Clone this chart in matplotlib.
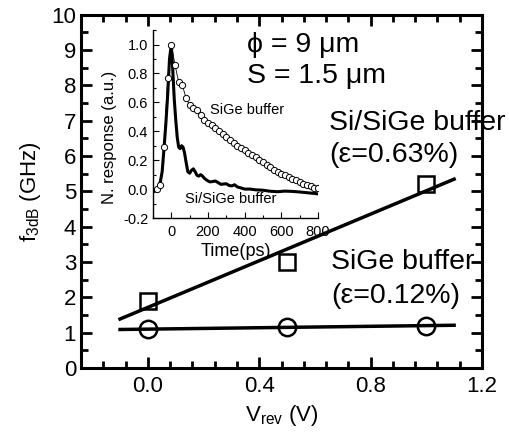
import numpy as np
import matplotlib
matplotlib.use('Agg')
import matplotlib.pyplot as plt
from matplotlib.ticker import MultipleLocator, FormatStrFormatter

plt.rcParams['font.family'] = ['Liberation Sans', 'DejaVu Sans']
plt.rcParams['mathtext.fontset'] = 'custom'
plt.rcParams['mathtext.rm'] = 'Liberation Sans'

# main data: f3dB vs reverse bias
v_rev = [0.0, 0.5, 1.0]
f_sisige = [1.9, 3.0, 5.2]     # Si/SiGe buffer (squares)
f_sige = [1.1, 1.15, 1.2]      # SiGe buffer (circles)
fit_range = [-0.1, 1.1]

# inset: normalised impulse response
t_sige = [-80, -60, -40, -20, 0, 20, 40, 60, 80, 100, 120, 140, 160, 180, 200,
          220, 240, 260, 280, 300, 320, 340, 360, 380, 400, 420, 440, 460, 480,
          500, 520, 540, 560, 580, 600, 620, 640, 660, 680, 700, 720, 740, 760,
          780, 800]
r_sige = [0.00, 0.03, 0.29, 0.77, 1.00, 0.86, 0.74, 0.72, 0.63, 0.58, 0.56,
          0.545, 0.51, 0.48, 0.455, 0.44, 0.42, 0.40, 0.38, 0.36, 0.34, 0.32,
          0.30, 0.285, 0.27, 0.25, 0.235, 0.22, 0.20, 0.185, 0.17, 0.155,
          0.135, 0.12, 0.107, 0.095, 0.083, 0.07, 0.06, 0.047, 0.038, 0.03,
          0.02, 0.01, 0.005]
t_sisige = [-100, -90, -75, -60, -50, -40, -30, -20, -10, 0, 8, 16, 24, 32, 40,
            48, 56, 64, 72, 80, 90, 100, 110, 120, 130, 140, 150, 160, 170, 180,
            195, 210, 225, 240, 255, 270, 285, 300, 315, 330, 345, 360, 380,
            400, 430, 460, 500, 540, 580, 620, 660, 700, 740, 780, 800]
r_sisige = [-0.02, -0.015, 0.0, 0.05, 0.12, 0.28, 0.45, 0.65, 0.9, 1.0, 0.82,
            0.62, 0.48, 0.36, 0.29, 0.28, 0.30, 0.29, 0.25, 0.19, 0.12, 0.11,
            0.13, 0.14, 0.12, 0.095, 0.09, 0.10, 0.09, 0.075, 0.06, 0.05, 0.052,
            0.056, 0.045, 0.033, 0.035, 0.037, 0.025, 0.022, 0.03, 0.015, 0.008,
            0.0, 0.0, -0.005, -0.008, -0.015, -0.018, -0.014, -0.016, -0.02,
            -0.025, -0.03, -0.033]

fig = plt.figure(figsize=(5.1, 4.36), dpi=100)
ax = fig.add_axes([0.159, 0.156, 0.786, 0.810])

# linear fits
xf = np.array(fit_range)
p1 = np.polyfit(v_rev, f_sisige, 1)
p2 = np.polyfit(v_rev, f_sige, 1)
ax.plot(xf, np.polyval(p1, xf), 'k-', lw=2.5)
ax.plot(xf, np.polyval(p2, xf), 'k-', lw=2.5)
ax.plot(v_rev, f_sisige, 's', ms=12, mfc='none', mec='k', mew=1.8)
ax.plot(v_rev, f_sige, 'o', ms=12.5, mfc='none', mec='k', mew=1.8)

ax.set_xlim(-0.24, 1.2)
ax.set_ylim(0, 10)
ax.xaxis.set_major_locator(MultipleLocator(0.4))
ax.xaxis.set_minor_locator(MultipleLocator(0.08))
ax.xaxis.set_major_formatter(FormatStrFormatter('%.1f'))
ax.yaxis.set_major_locator(MultipleLocator(1))
ax.yaxis.set_minor_locator(MultipleLocator(0.5))
ax.tick_params(which='both', direction='in', top=True, right=True,
               labelsize=16, width=2)
ax.tick_params(which='major', length=8)
ax.tick_params(which='minor', length=5)
ax.tick_params(axis='x', pad=6)
for s in ax.spines.values():
    s.set_linewidth(2.2)
ax.set_xlabel(r'V$_\mathregular{rev}$ (V)', fontsize=16, labelpad=4)
ax.set_ylabel(r'f$_\mathregular{3dB}$ (GHz)', fontsize=16, labelpad=6)

tkw = dict(fontsize=20.5, ha='left', va='center')
ax.text(0.357, 9.15, '\u03d5 = 9 \u03bcm', **tkw)
ax.text(0.357, 8.27, 'S = 1.5 \u03bcm', **tkw)
ax.text(0.65, 6.94, 'Si/SiGe buffer', **tkw)
ax.text(0.65, 6.03, '(\u03b5=0.63%)', **tkw)
ax.text(0.657, 3.0, 'SiGe buffer', **tkw)
ax.text(0.657, 2.04, '(\u03b5=0.12%)', **tkw)

# inset
ins = fig.add_axes([0.300, 0.500, 0.3235, 0.431])
ins.patch.set_alpha(0)
ins.plot(t_sisige, r_sisige, 'k-', lw=2.2)
ins.plot(t_sige, r_sige, '-o', color='k', lw=0.6, ms=4.5, mfc='white',
         mec='k', mew=0.7)
ins.set_xlim(-100, 800)
ins.set_ylim(-0.2, 1.1)
ins.spines['top'].set_visible(False)
ins.spines['right'].set_visible(False)
for s in ['left', 'bottom']:
    ins.spines[s].set_linewidth(1)
ins.xaxis.set_major_locator(MultipleLocator(200))
ins.xaxis.set_minor_locator(MultipleLocator(100))
ins.yaxis.set_major_locator(MultipleLocator(0.2))
ins.yaxis.set_minor_locator(MultipleLocator(0.1))
ins.yaxis.set_major_formatter(FormatStrFormatter('%.1f'))
ins.tick_params(which='both', direction='in', labelsize=10.5, width=0.8)
ins.tick_params(which='major', length=4)
ins.tick_params(which='minor', length=2.5)
ins.tick_params(axis='x', pad=5)
ins.set_xlabel('Time(ps)', fontsize=13, labelpad=3)
ins.set_ylabel('N. response (a.u.)', fontsize=12)
ins.yaxis.set_label_coords(-0.22, 0.43)
ins.text(210, 0.545, 'SiGe buffer', fontsize=10.5, ha='left', va='center')
ins.text(72, -0.07, 'Si/SiGe buffer', fontsize=10.5, ha='left', va='center')

fig.savefig('out.png', dpi=100)
